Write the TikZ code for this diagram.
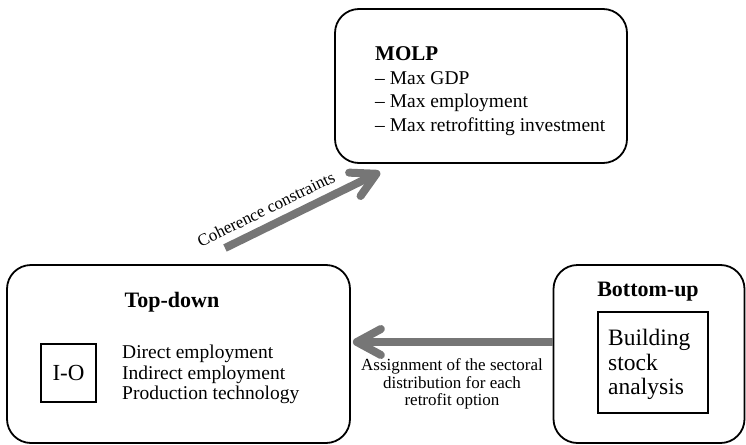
\documentclass[tikz,border=0pt]{standalone}
\usepackage{fontspec}
\setmainfont{Liberation Serif}
\usetikzlibrary{arrows.meta,calc}
\definecolor{arrowgray}{RGB}{118,118,118}
\begin{document}
\begin{tikzpicture}[x=1pt,y=-1pt,
  bigbox/.style={draw=black,line width=1.8pt,rounded corners=24pt,inner sep=0pt},
  innerbox/.style={draw=black,line width=1.5pt,inner sep=0pt},
  txt/.style={inner sep=0pt,align=left},
  bigarrow/.style={draw=arrowgray,line width=8pt,
    -{Straight Barb[length=24pt,width=26pt,line cap=round,line join=round]}}]
\useasboundingbox (0,0) rectangle (746,444);
% boxes
\node[bigbox,minimum width=292pt,minimum height=154pt] (molp) at (481,86) {};
\node[bigbox,minimum width=343pt,minimum height=178pt] (td) at (178.5,354) {};
\node[bigbox,minimum width=191pt,minimum height=178pt] (bu) at (649,354) {};
\node[innerbox,minimum width=55pt,minimum height=58pt,font=\fontsize{23}{26}\selectfont] (io) at (68.5,373)
  {I-O};
\node[innerbox,minimum width=110pt,minimum height=101pt] (bs) at (653,362.5) {};
% texts
\node[txt,anchor=west,font=\fontsize{21}{24}\selectfont\bfseries] (molpt) at (375,54) {MOLP};
\node[txt,anchor=north west,font=\fontsize{19.5}{23.5}\selectfont] (molpl) at (375,71)
  {\textendash\ Max GDP\\ \textendash\ Max employment\\ \textendash\ Max retrofitting investment};
\node[txt,font=\fontsize{22}{26}\selectfont\bfseries] (tdt) at (172,302) {Top-down};
\node[txt,anchor=north west,font=\fontsize{19.5}{20.5}\selectfont] (tdl) at (122,345)
  {Direct employment\\ Indirect employment\\ Production technology};
\node[txt,font=\fontsize{22}{26}\selectfont\bfseries] (but) at (648,292) {Bottom-up};
\node[txt,anchor=north west,font=\fontsize{23.5}{24.5}\selectfont] (bsl) at (608,329)
  {Building\\ stock\\ analysis};
\node[txt,align=center,font=\fontsize{17}{17.5}\selectfont] (asg) at (452,384)
  {Assignment of the sectoral\\ distribution for each\\ retrofit option};
% arrows
\coordinate (cs) at (225,248);
\coordinate (ce) at (380,172);
\draw[bigarrow] (cs) -- (ce);
\node[txt,rotate=26.1,font=\fontsize{17}{20}\selectfont] (coh) at (266,209) {Coherence constraints};
\draw[bigarrow] ([yshift=12pt]bu.west) -- ([yshift=12pt,xshift=2pt]td.east);
\end{tikzpicture}
\end{document}
